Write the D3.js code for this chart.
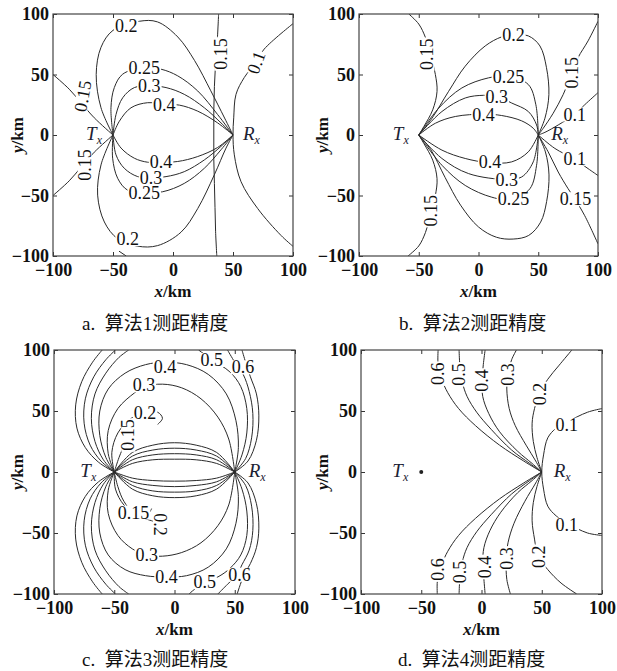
<!DOCTYPE html>
<html>
<head>
<meta charset="utf-8">
<script src="https://cdn.jsdelivr.net/npm/d3@7"></script>
<style>
body { margin: 0; background: #fff; }
svg { display: block; font-family: "Liberation Serif", "Times New Roman", serif; }
.tick text { font-weight: bold; font-size: 18px; fill: #111; font-family: "Liberation Serif", serif; }
.tick line { stroke: #333; }
.clab { font-size: 18px; fill: #111; }
.station { font-size: 19px; fill: #1c2233; font-style: italic; }
.atitle { font-size: 17px; font-weight: bold; fill: #111; }
.caption { font-size: 19px; fill: #111; white-space: pre; font-family: "Liberation Serif", "Noto Sans CJK SC", serif; }
</style>
</head>
<body>
<svg id="chart" width="617" height="671"></svg>
<script>
// axis ticks, same for all four panels (km)
const tickValues = [-100, -50, 0, 50, 100];
const txPos = [-50, 0];
const rxPos = [50, 0];
const captions = ["a.  算法1测距精度", "b.  算法2测距精度", "c.  算法3测距精度", "d.  算法4测距精度"];

// contour lines: [level, [[x_km, y_km], ...]]
// panel a - algorithm 1
const contoursA = [
    [0.2, [[-50,0],[-60,22.5],[-64,50],[-60,72.5],[-50,86.5],[-28,94],[-13,93.5],[4,81],[18,61.5],[31.5,36.5],[43,14],[50,0]]],
    [0.2, [[-50,0],[-60,-24.7],[-62.8,-49.7],[-57.2,-71.9],[-46.1,-85.8],[-29.4,-91.9],[-12.8,-91.4],[6.7,-80.3],[20.6,-60.8],[34.4,-33],[44.2,-10.8],[50,0]]],
    [0.25, [[-50,0],[-51.7,22.5],[-48.9,39.2],[-41.9,50.3],[-23.9,55.8],[-10,54.4],[3.9,48.9],[20.6,36.4],[37.2,16.9],[50,0]]],
    [0.25, [[-50,0],[-50.3,-19.2],[-46.1,-35.8],[-37.8,-45.6],[-23.9,-47.5],[-8.6,-46.9],[9.4,-40],[26.1,-27.5],[40,-12.2],[50,0]]],
    [0.3, [[-50,0],[-47.5,16.9],[-41.9,30.8],[-32.2,39.2],[-19.7,40.6],[-5.8,39.2],[9.4,33.6],[26.1,22.5],[40,10],[50,0]]],
    [0.3, [[-50,0],[-47.5,-16.4],[-40.6,-27.5],[-29.4,-34.4],[-18.3,-35.3],[-5.8,-34.4],[9.4,-30.3],[26.1,-20.6],[40,-9.4],[50,0]]],
    [0.4, [[-50,0],[-44.7,11.4],[-35,22.5],[-21.1,26.7],[-7.2,25.3],[5.3,24.7],[20.6,19.7],[37.2,10],[50,0]]],
    [0.4, [[-50,0],[-43.3,-10.8],[-32.2,-19.2],[-21.1,-22.5],[-10,-22.5],[3.9,-21.9],[20.6,-17.8],[37.2,-10.3],[50,0]]],
    [0.15, [[-50,0],[-65.6,14.2],[-76.7,26.7],[-86.4,37.8],[-100,50]]],
    [0.15, [[-50,0],[-65.6,-14.2],[-76.7,-26.7],[-86.4,-37.8],[-100,-50]]],
    [0.15, [[38,100],[37,80],[35.5,60],[34.5,40],[34,20],[34,0],[34,-20],[34.5,-40],[35,-60],[35.5,-80],[36.5,-100]]],
    [0.1, [[100,92],[76,71],[69,60],[59.4,47.5],[52.5,33.6],[50.6,14.2],[50,0],[51.1,-16.4],[56.7,-38.6],[70.6,-60.8],[90,-83],[100,-92]]],
    [0.2, [[-45,-96],[-39,-100]]]
];
const labelsA = [
    ["0.2", -39, 90.6, 0], ["0.2", -37.8, -85.8, 0], ["0.25", -23.9, 55.8, 0], ["0.3", -19.7, 40.6, 0],
    ["0.4", -7.2, 25.3, 0], ["0.4", -10, -21.7, 0], ["0.3", -18.3, -35, 0], ["0.25", -23.9, -48, 0],
    ["0.15", -75.3, 32.2, -80], ["0.15", -73.9, -24.7, -90], ["0.15", 40, 67, -90], ["0.1", 69.2, 60, -70]
];

// panel b - algorithm 2
const contoursB = [
    [0.2, [[-50,0],[-38.9,13.9],[-25,36.1],[-11.1,56.9],[5.6,73.6],[19.4,81.1],[29.2,82.8],[41.7,81.9],[51.4,73.6],[56.9,55.6],[58.9,33.3],[55.6,13.9],[50,0]]],
    [0.2, [[-50,0],[-40,-12],[-28,-35],[-15,-58],[0,-76],[15,-84.5],[29,-86],[42,-83],[52,-72],[57,-55],[59,-33],[56,-14],[50,0]]],
    [0.25, [[-50,0],[-33.3,22.2],[-13.9,38.9],[8.3,47.2],[25,48.6],[41.7,41.7],[48,25],[50,0]]],
    [0.25, [[-50,0],[-30.6,-25],[-11.1,-41.7],[11.1,-51.4],[27.8,-53.3],[43,-44.4],[48.6,-25],[50,0]]],
    [0.3, [[-50,0],[-30.6,19.4],[-11.1,30.6],[4.2,32.8],[15.3,31.9],[27.8,26.4],[41.7,19.4],[48.6,8.3],[50,0]]],
    [0.3, [[-50,0],[-30.6,-19.4],[-8.3,-31.9],[23.6,-36.7],[36.1,-34.7],[45.8,-22.2],[50,0]]],
    [0.4, [[-50,0],[-36.1,9.7],[-19.4,15.3],[4.2,17.2],[19.4,16.1],[36.1,11.7],[45.8,5.6],[50,0]]],
    [0.4, [[-50,0],[-30.6,-12.5],[-11.1,-19.4],[8.3,-22.8],[27.8,-22.2],[41.7,-13.9],[50,0]]],
    [0.15, [[-58.3,100],[-50,91.7],[-44.4,80.6],[-40.3,66.7],[-36.1,50],[-34.7,36.1],[-38.3,20.8],[-45.8,6.9],[-50,0]]],
    [0.15, [[-50,0],[-45.8,-6.9],[-38.3,-20.8],[-34.7,-36.1],[-36.1,-50],[-40.3,-66.7],[-44.4,-80.6],[-50,-91.7],[-59,-100]]],
    [0.15, [[100,94],[91.7,77.8],[83.3,63.9],[77.8,50],[70.8,33.3],[62.5,18],[54.2,5.6],[50,0]]],
    [0.1, [[100,35],[88.9,25],[80.6,17.2],[66.7,8.3],[55.6,2.2],[50,0]]],
    [0.1, [[50,0],[63.9,-11.1],[79.2,-19.4],[91.7,-27.8],[100,-33.5]]],
    [0.15, [[50,0],[58.3,-13.9],[66.7,-30.6],[75,-44.4],[80.6,-52.8],[88.9,-66.7],[100,-90]]]
];
const labelsB = [
    ["0.15", -43, 66.7, -90], ["0.15", -40.3, -62.5, -90], ["0.2", 29.2, 82.8, 0], ["0.25", 25, 48.6, 0],
    ["0.3", 15.3, 32, 0], ["0.4", 4.2, 17.2, 0], ["0.4", 9.7, -22.2, 0], ["0.3", 23.6, -36.7, 0],
    ["0.25", 29.2, -52.8, 0], ["0.1", 80.6, 17.2, 0], ["0.1", 80.6, -19.4, 0], ["0.15", 81.1, -52.8, 0],
    ["0.15", 77.8, 51.4, -90]
];

// panel c - algorithm 3
const contoursC = [
    [0.7, [[-50,0],[-63,8],[-74,20],[-81,36],[-82,55],[-77,74],[-68,90],[-60,100]]],
    [0.6, [[-50,0],[-61,9],[-70,22],[-75,40],[-74,60],[-67,78],[-57,92],[-49,100]]],
    [0.5, [[-50,0],[-59,10],[-66,25],[-69,44],[-66,64],[-57,81],[-46,94],[-38,100]]],
    [0.4, [[-50,0],[-57,12],[-62,30],[-62,50],[-55,68],[-41,81],[-24,88],[-8,90],[10,88],[28,80],[43,64],[51,42],[53,20],[50,0]]],
    [0.3, [[-50,0],[-55,15],[-55,34],[-47,52],[-33,65],[-25,70],[-10,72],[6,69],[22,60],[36,45],[45,27],[50,0]]],
    [0.2, [[-50,0],[-52,16],[-47,32],[-36,44],[-24.5,48.4],[-14,49],[-10,44],[-14,39]]],
    [0.15, [[-50,0],[-46,12],[-41,24],[-38.6,30.3],[-36,40],[-33,45]]],
    [0.7, [[50,0],[61,9],[68,26],[70,46],[68,64],[63,78],[59,90],[56,100]]],
    [0.6, [[50,0],[59,11],[64,28],[65,48],[62,66],[57,80],[50,90],[44,100]]],
    [0.5, [[50,0],[56,14],[60,32],[60,52],[55,70],[46,82],[31,92],[20,100]]],
    [0.2, [[-50,0],[-35,16],[-18,22],[0,24],[18,22],[35,16],[50,0]]],
    [0.2, [[-50,0],[-35,13],[-18,18],[0,19.5],[18,18],[35,13],[50,0]]],
    [0.2, [[-50,0],[-35,10],[-18,14],[0,15],[18,14],[35,10],[50,0]]],
    [0.2, [[-50,0],[-35,7],[-18,10],[0,10.5],[18,10],[35,7],[50,0]]],
    [0.2, [[-50,0],[-35,-5],[-18,-7],[0,-7.5],[18,-7],[35,-5],[50,0]]],
    [0.2, [[-50,0],[-35,-8],[-18,-11],[0,-12],[18,-11],[35,-8],[50,0]]],
    [0.2, [[-50,0],[-35,-11],[-18,-15.5],[0,-16.5],[18,-15.5],[35,-11],[50,0]]],
    [0.2, [[-50,0],[-35,-14],[-18,-19.5],[0,-21],[18,-19.5],[35,-14],[50,0]]],
    [0.7, [[-50,0],[-63,-8],[-74,-20],[-81,-36],[-82,-55],[-77,-74],[-68,-90],[-60,-100]]],
    [0.6, [[-50,0],[-61,-9],[-70,-22],[-75,-40],[-74,-60],[-67,-78],[-57,-92],[-49,-100]]],
    [0.5, [[-50,0],[-59,-10],[-66,-25],[-69,-44],[-66,-64],[-57,-81],[-46,-94],[-38,-100]]],
    [0.4, [[-50,0],[-57,-12],[-62,-30],[-62,-50],[-55,-68],[-41,-80],[-24,-85],[-6.6,-86],[10,-85],[28,-78],[43,-63],[51,-42],[53,-20],[50,0]]],
    [0.3, [[-50,0],[-55,-15],[-55,-34],[-47,-52],[-35,-63],[-23,-68],[-10,-69],[6,-66],[22,-58],[36,-44],[45,-27],[50,0]]],
    [0.2, [[-50,0],[-49,-14],[-42,-27],[-30,-36],[-16,-41],[-12,-43]]],
    [0.15, [[-50,0],[-47,-12],[-42,-24],[-34,-33],[-22,-34],[-19,-30]]],
    [0.7, [[50,0],[61,-9],[68,-26],[70,-46],[68,-62],[63,-75],[57,-86],[52,-100]]],
    [0.6, [[50,0],[59,-11],[64,-28],[65,-48],[62,-64],[56,-76],[52,-84],[44,-92],[36,-100]]],
    [0.5, [[50,0],[56,-14],[60,-32],[60,-52],[55,-68],[46,-79],[36,-86],[25,-90],[12,-100]]]
];
const labelsC = [
    ["0.4", -7.9, 86, 0], ["0.5", 31, 92, 0], ["0.6", 56.8, 86, 0], ["0.3", -25.3, 71.3, 0],
    ["0.2", -24.5, 48.4, 0], ["0.15", -38.6, 30.3, -90],
    ["0.15", -34, -33, 0], ["0.2", -12, -43, 90], ["0.3", -23, -68, 0], ["0.4", -6.6, -86, 0],
    ["0.5", 25, -90, 0], ["0.6", 54, -84, 0]
];

// panel d - algorithm 4
const contoursD = [
    [0.6, [[-36,100],[-36,88],[-33,76],[-28,65],[-19,52],[-5,38],[15,22],[35,9],[50,0]]],
    [0.5, [[-18.6,100],[-18,88],[-16,74],[-12,62],[-4,49],[8,35],[25,18],[40,7],[50,0]]],
    [0.4, [[3,100],[1.5,88],[0.5,75],[1,62],[6,48],[15,33],[30,17],[42,7],[50,0]]],
    [0.3, [[29,100],[25,92],[22,80],[21,68],[23,52],[28,38],[37,22],[45,9],[50,0]]],
    [0.2, [[50,0],[46,12],[43,25],[42,40],[44,52],[48,64],[55,76],[64,87],[75,100]]],
    [0.1, [[100,52],[88,49],[71,41],[62,36],[55,28],[51.5,14],[50,0],[51.5,-14],[55,-28],[62,-36],[71,-42],[88,-50],[100,-52]]],
    [0.6, [[-36.7,-100],[-36.5,-88],[-33,-76],[-28,-65],[-19,-52],[-5,-38],[15,-22],[35,-9],[50,0]]],
    [0.5, [[-18.6,-100],[-18,-88],[-16,-74],[-12,-62],[-4,-49],[8,-35],[25,-18],[40,-7],[50,0]]],
    [0.4, [[3,-100],[2,-88],[1,-75],[2,-62],[7,-48],[16,-33],[30,-17],[42,-7],[50,0]]],
    [0.3, [[24,-100],[21,-88],[20.5,-72],[22,-58],[27,-42],[36,-24],[45,-9],[50,0]]],
    [0.2, [[50,0],[46,-12],[43,-25],[42,-40],[44,-55],[47,-69],[55,-80],[66,-91],[79,-100]]]
];
const labelsD = [
    ["0.6", -36, 80.6, -90], ["0.5", -18.6, 80, -90], ["0.4", 0.5, 75, -90], ["0.3", 22, 80, -90],
    ["0.2", 48.3, 64, -90], ["0.1", 70.8, 39, 0], ["0.1", 70.8, -43, 0],
    ["0.6", -36, -80, -90], ["0.5", -18, -82, -90], ["0.4", 2.5, -77.8, -90], ["0.3", 20.8, -70.8, -90],
    ["0.2", 47.2, -69.4, -90]
];

// where the four plot frames sit on the page
const panels = [
    { id: "a", contours: contoursA, labels: labelsA, xr: [53, 293], yr: [256, 14], txOff: -11, rxOff: 10, yTitleX: 17, caption: captions[0], capX: 82, capY: 330 },
    { id: "b", contours: contoursB, labels: labelsB, xr: [359, 598], yr: [256, 14], txOff: -10, rxOff: 13, yTitleX: 322, caption: captions[1], capX: 399, capY: 330 },
    { id: "c", contours: contoursC, labels: labelsC, xr: [54, 295], yr: [594, 350], txOff: -18, rxOff: 14, yTitleX: 17, caption: captions[2], capX: 82, capY: 666 },
    { id: "d", contours: contoursD, labels: labelsD, xr: [361, 602], yr: [594, 350], txOff: -13, rxOff: 12, yTitleX: 322, caption: captions[3], capX: 398, capY: 666, txDot: true }
];

const svg = d3.select("#chart");

panels.forEach(function(p) {
    let x = d3.scaleLinear().domain([-100, 100]).range(p.xr);
    let y = d3.scaleLinear().domain([-100, 100]).range(p.yr);
    let g = svg.append("g");

    g.append("clipPath").attr("id", "clip-" + p.id)
        .append("rect")
        .attr("x", p.xr[0]).attr("y", p.yr[1])
        .attr("width", p.xr[1] - p.xr[0]).attr("height", p.yr[0] - p.yr[1]);

    // contour lines
    let line = d3.line()
        .x(d => x(d[0]))
        .y(d => y(d[1]))
        .curve(d3.curveCatmullRom.alpha(0.5));

    g.append("g").attr("clip-path", "url(#clip-" + p.id + ")")
        .selectAll("path")
        .data(p.contours)
        .enter()
        .append("path")
        .attr("d", d => line(d[1]))
        .attr("fill", "none")
        .attr("stroke", "#2a2a2a")
        .attr("stroke-width", 1);

    // inline contour labels, with a white gap cut in the line behind them
    let lab = g.selectAll(".clab")
        .data(p.labels)
        .enter()
        .append("g")
        .attr("transform", d => "translate(" + x(d[1]) + "," + y(d[2]) + ") rotate(" + d[3] + ")");
    lab.append("text")
        .attr("class", "clab")
        .attr("text-anchor", "middle")
        .attr("dy", "0.35em")
        .text(d => d[0]);
    lab.each(function() {
        let grp = d3.select(this);
        let bb = grp.select("text").node().getBBox();
        grp.insert("rect", "text")
            .attr("x", bb.x - 1).attr("y", bb.y + 3)
            .attr("width", bb.width + 2).attr("height", bb.height - 6)
            .attr("fill", "#fff");
    });

    // axes: labelled bottom/left, bare ticks top/right
    let fmt = d => d3.format("d")(d).replace("-", "\u2212");
    let axes = [
        g.append("g").attr("transform", "translate(0," + p.yr[0] + ")")
            .call(d3.axisBottom(x).tickValues(tickValues).tickSizeInner(-4).tickSizeOuter(0).tickPadding(7).tickFormat(fmt)),
        g.append("g").attr("transform", "translate(" + p.xr[0] + ",0)")
            .call(d3.axisLeft(y).tickValues(tickValues).tickSizeInner(-4).tickSizeOuter(0).tickPadding(4).tickFormat(fmt)),
        g.append("g").attr("transform", "translate(0," + p.yr[1] + ")")
            .call(d3.axisTop(x).tickValues(tickValues).tickSizeInner(-4).tickSizeOuter(0).tickFormat("")),
        g.append("g").attr("transform", "translate(" + p.xr[1] + ",0)")
            .call(d3.axisRight(y).tickValues(tickValues).tickSizeInner(-4).tickSizeOuter(0).tickFormat(""))
    ];
    axes.forEach(a => a.attr("font-family", null).attr("font-size", null));
    g.selectAll(".domain").remove();

    g.append("rect")
        .attr("x", p.xr[0]).attr("y", p.yr[1])
        .attr("width", p.xr[1] - p.xr[0]).attr("height", p.yr[0] - p.yr[1])
        .attr("fill", "none").attr("stroke", "#444").attr("stroke-width", 1.2);

    // transmitter / receiver
    let tx = g.append("text").attr("class", "station").attr("text-anchor", "end")
        .attr("x", x(txPos[0]) + p.txOff).attr("y", y(txPos[1]) + 5);
    tx.append("tspan").text("T");
    tx.append("tspan").attr("font-size", 12).attr("dy", 4).text("x");
    let rx = g.append("text").attr("class", "station").attr("text-anchor", "start")
        .attr("x", x(rxPos[0]) + p.rxOff).attr("y", y(rxPos[1]) + 5);
    rx.append("tspan").text("R");
    rx.append("tspan").attr("font-size", 12).attr("dy", 4).text("x");
    if (p.txDot) {
        g.append("circle").attr("cx", x(txPos[0])).attr("cy", y(txPos[1])).attr("r", 2).attr("fill", "#222");
    }

    // axis titles
    let xt = g.append("text").attr("class", "atitle").attr("text-anchor", "middle")
        .attr("x", (p.xr[0] + p.xr[1]) / 2).attr("y", p.yr[0] + 41);
    xt.append("tspan").attr("font-style", "italic").text("x");
    xt.append("tspan").text("/km");
    let yt = g.append("text").attr("class", "atitle").attr("text-anchor", "middle")
        .attr("transform", "translate(" + (p.yTitleX + 6) + "," + y(0) + ") rotate(-90)");
    yt.append("tspan").attr("font-style", "italic").text("y");
    yt.append("tspan").text("/km");

    // caption
    svg.append("text").attr("class", "caption")
        .attr("x", p.capX).attr("y", p.capY)
        .text(p.caption);
});
</script>
</body>
</html>
